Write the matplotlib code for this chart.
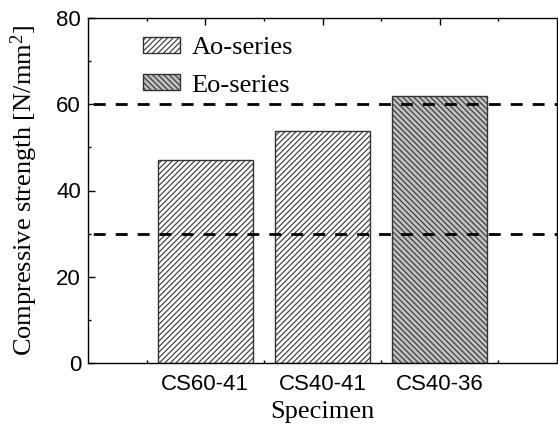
import matplotlib
matplotlib.use("Agg")
import matplotlib.pyplot as plt
from matplotlib.ticker import MultipleLocator, FixedLocator
from matplotlib.patches import Patch

categories = ["CS60-41", "CS40-41", "CS40-36"]
values = [47.0, 53.7, 62.0]
series = ["Ao-series", "Ao-series", "Eo-series"]
ref_lines = [60, 30]
yticks = [0, 20, 40, 60, 80]

plt.rcParams['hatch.linewidth'] = 0.8
plt.rcParams['hatch.color'] = '#222222'
plt.rcParams['mathtext.fontset'] = 'custom'
plt.rcParams['mathtext.rm'] = 'Liberation Serif'
plt.rcParams['mathtext.it'] = 'Liberation Serif:italic'

fig = plt.figure(figsize=(5.58, 4.32), dpi=100)
ax = fig.add_axes([88/558, 1-363/432, (557-88)/558, (363-18)/432])

pos = [1, 2, 3]
styles = {"Ao-series": dict(facecolor="white", hatch="//////"),
          "Eo-series": dict(facecolor="#c0c0c0", hatch="\\\\\\\\\\\\")}
for x, v, s in zip(pos, values, series):
    ax.bar(x, v, width=0.81, edgecolor="#333333", linewidth=1.0, zorder=2, **styles[s])

for yv in ref_lines:
    ax.axhline(yv, color="black", lw=2.0, linestyle=(6.0, (4.3, 3.6)), zorder=3)

ax.set_xlim(0, 4)
ax.set_ylim(0, 80)
ax.set_xticks(pos)
ax.set_xticklabels(categories, fontfamily="Liberation Sans", fontsize=16)
ax.xaxis.set_minor_locator(FixedLocator([0.5, 1.5, 2.5, 3.5]))
ax.set_yticks(yticks)
ax.set_yticklabels([str(t) for t in yticks], fontfamily="Liberation Sans", fontsize=16)
ax.yaxis.set_minor_locator(MultipleLocator(10))
ax.tick_params(axis='both', which='both', direction='in')
ax.tick_params(axis='x', which='both', top=True)
ax.tick_params(which='major', length=5, width=1.0)
ax.tick_params(which='minor', length=2.5, width=1.0)
ax.tick_params(axis='x', pad=8)
ax.tick_params(axis='y', pad=5)
for sp in ax.spines.values():
    sp.set_linewidth(1.0)

ax.set_ylabel("Compressive strength [N/mm$^2$]", fontfamily="Liberation Serif", fontsize=19, labelpad=12)
ax.set_xlabel("Specimen", fontfamily="Liberation Serif", fontsize=19, labelpad=4)

handles = [Patch(facecolor="white", edgecolor="#333333", hatch="//////", label="Ao-series"),
           Patch(facecolor="#c0c0c0", edgecolor="#333333", hatch="\\\\\\\\\\\\", label="Eo-series")]
ax.legend(handles=handles, loc="upper left", bbox_to_anchor=(0.117, 0.945), frameon=False,
          prop={"family": "Liberation Serif", "size": 19}, handlelength=1.4, handleheight=0.53,
          handletextpad=0.45, labelspacing=0.58, borderpad=0, borderaxespad=0)

fig.savefig("out.png", dpi=100)
